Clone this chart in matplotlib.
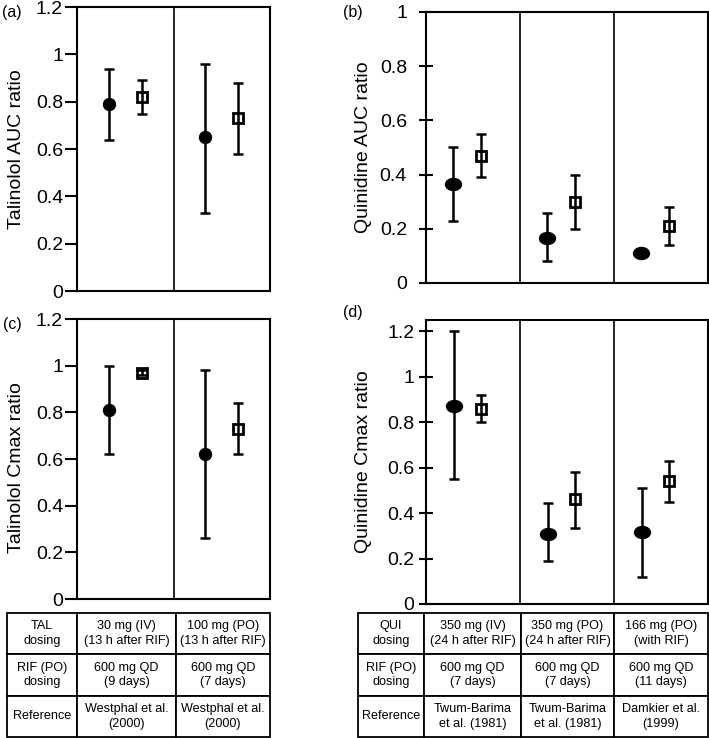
import numpy as np
import matplotlib

matplotlib.use("Agg")
import matplotlib.pyplot as plt
from matplotlib.path import Path

plt.rcParams["font.family"] = ["Liberation Sans", "DejaVu Sans"]

# ---- data ----
# (a) talinolol AUC ratio, two studies
tal_auc_obs = [0.79, 0.65]
tal_auc_obs_lo = [0.64, 0.33]
tal_auc_obs_hi = [0.94, 0.96]
tal_auc_pred = [0.82, 0.73]
tal_auc_pred_lo = [0.75, 0.58]
tal_auc_pred_hi = [0.89, 0.88]

# (c) talinolol Cmax ratio
tal_cmax_obs = [0.81, 0.62]
tal_cmax_obs_lo = [0.62, 0.26]
tal_cmax_obs_hi = [1.00, 0.98]
tal_cmax_pred = [0.97, 0.73]
tal_cmax_pred_lo = [0.96, 0.62]
tal_cmax_pred_hi = [0.98, 0.84]

# (b) quinidine AUC ratio, three studies
qui_auc_obs = [0.365, 0.165, 0.11]
qui_auc_obs_lo = [0.23, 0.08, 0.11]
qui_auc_obs_hi = [0.50, 0.26, 0.11]
qui_auc_pred = [0.47, 0.30, 0.21]
qui_auc_pred_lo = [0.39, 0.20, 0.14]
qui_auc_pred_hi = [0.55, 0.40, 0.28]

# (d) quinidine Cmax ratio
qui_cmax_obs = [0.87, 0.31, 0.315]
qui_cmax_obs_lo = [0.55, 0.19, 0.12]
qui_cmax_obs_hi = [1.20, 0.445, 0.51]
qui_cmax_pred = [0.86, 0.46, 0.54]
qui_cmax_pred_lo = [0.80, 0.335, 0.45]
qui_cmax_pred_hi = [0.92, 0.58, 0.63]

tal_table = [
    ["TAL\ndosing", "30 mg (IV)\n(13 h after RIF)", "100 mg (PO)\n(13 h after RIF)"],
    ["RIF (PO)\ndosing", "600 mg QD\n(9 days)", "600 mg QD\n(7 days)"],
    ["Reference", "Westphal et al.\n(2000)", "Westphal et al.\n(2000)"],
]
qui_table = [
    ["QUI\ndosing", "350 mg (IV)\n(24 h after RIF)", "350 mg (PO)\n(24 h after RIF)", "166 mg (PO)\n(with RIF)"],
    ["RIF (PO)\ndosing", "600 mg QD\n(7 days)", "600 mg QD\n(7 days)", "600 mg QD\n(11 days)"],
    ["Reference", "Twum-Barima\net al. (1981)", "Twum-Barima\net al. (1981)", "Damkier et al.\n(1999)"],
]

W, H = 709, 738
fig = plt.figure(figsize=(W / 100, H / 100), dpi=100)


def px_axes(left, top, right, bottom):
    return fig.add_axes([left / W, 1 - bottom / H, (right - left) / W, (bottom - top) / H])


# slightly wide ellipse for the stretched right-hand panels
circ = Path.unit_circle()
ellipse = Path(circ.vertices * np.array([1.33, 1.0]), circ.codes)


def panel(ax, obs, olo, ohi, pred, plo, phi, offs, ylim, ylabel, right):
    n = len(obs)
    xo = np.arange(n) + offs[0]
    xp = np.arange(n) + offs[1]
    obs, olo, ohi = map(np.array, (obs, olo, ohi))
    pred, plo, phi = map(np.array, (pred, plo, phi))

    ax.plot(xp, pred, "s", mfc="white", mec="black", mew=2.0, ms=7.6, zorder=2)
    ax.errorbar(xp, pred, yerr=[pred - plo, phi - pred], fmt="none", ecolor="black",
                elinewidth=1.8, capsize=3.5, capthick=1.8, zorder=3)
    ax.errorbar(xo, obs, yerr=[obs - olo, ohi - obs], fmt="none", ecolor="black",
                elinewidth=1.8, capsize=3.5, capthick=1.8, zorder=3)
    if right:
        ax.plot(xo, obs, linestyle="none", marker=ellipse, color="black", ms=11.5, zorder=4)
    else:
        ax.plot(xo, obs, "o", color="black", ms=8.6, zorder=4)

    for k in range(1, n):
        ax.axvline(k, color="black", lw=1.2)
    ax.set_xlim(0, n)
    ax.set_ylim(*ylim)
    ticks = np.arange(0, 1.21, 0.2) if ylim[1] > 1.1 else np.arange(0, 1.01, 0.2)
    ax.set_yticks(ticks)
    ax.set_yticklabels([f"{t:g}" for t in np.round(ticks, 1)])
    ax.set_xticks([])
    for s in ax.spines.values():
        s.set_linewidth(1.5)
    ax.set_ylabel(ylabel, fontsize=14)
    return ax


ax_a = px_axes(77, 7, 270, 291)
panel(ax_a, tal_auc_obs, tal_auc_obs_lo, tal_auc_obs_hi,
      tal_auc_pred, tal_auc_pred_lo, tal_auc_pred_hi,
      (0.33, 0.67), (0, 1.2), "Talinolol AUC ratio", False)
ax_a.tick_params(axis="y", direction="out", length=8.5, width=1.5, pad=1.5, labelsize=14)
ax_a.yaxis.set_label_coords(-0.27, 0.5)

ax_c = px_axes(77, 319, 270, 599)
panel(ax_c, tal_cmax_obs, tal_cmax_obs_lo, tal_cmax_obs_hi,
      tal_cmax_pred, tal_cmax_pred_lo, tal_cmax_pred_hi,
      (0.33, 0.67), (0, 1.2), "Talinolol Cmax ratio", False)
ax_c.tick_params(axis="y", direction="out", length=8.5, width=1.5, pad=1.5, labelsize=14)
ax_c.yaxis.set_label_coords(-0.27, 0.47)

ax_b = px_axes(426, 12, 708, 283)
panel(ax_b, qui_auc_obs, qui_auc_obs_lo, qui_auc_obs_hi,
      qui_auc_pred, qui_auc_pred_lo, qui_auc_pred_hi,
      (0.29, 0.58), (0, 1.0), "Quinidine AUC ratio", True)
ax_b.tick_params(axis="y", direction="inout", length=9.5, width=1.5, pad=9, labelsize=14)
ax_b.yaxis.set_label_coords(-0.19, 0.5)

ax_d = px_axes(426, 320, 708, 604)
panel(ax_d, qui_cmax_obs, qui_cmax_obs_lo, qui_cmax_obs_hi,
      qui_cmax_pred, qui_cmax_pred_lo, qui_cmax_pred_hi,
      (0.30, 0.59), (0, 1.25), "Quinidine Cmax ratio", True)
ax_d.tick_params(axis="y", direction="inout", length=9.5, width=1.5, pad=3.5, labelsize=14)
ax_d.yaxis.set_label_coords(-0.19, 0.5)

for lab, x, y in [("(a)", 2, 13), ("(b)", 343, 13), ("(c)", 3, 325), ("(d)", 343, 312)]:
    fig.text(x / W, 1 - y / H, lab, fontsize=11.5, ha="left", va="center")


def draw_table(left, right, rows, col_px):
    ax = px_axes(left, 613, right, 737)
    ax.axis("off")
    widths = np.array(col_px, dtype=float)
    tbl = ax.table(cellText=rows, colWidths=list(widths / widths.sum()),
                   cellLoc="center", bbox=[0, 0, 1, 1])
    tbl.auto_set_font_size(False)
    tbl.set_fontsize(9.1)
    for cell in tbl.get_celld().values():
        cell.set_linewidth(1.3)
        cell.get_text().set_linespacing(1.3)


draw_table(7, 270, tal_table, [70, 99, 94])
draw_table(358, 708, qui_table, [66, 97, 93, 94])

fig.savefig("out.png", dpi=100)
